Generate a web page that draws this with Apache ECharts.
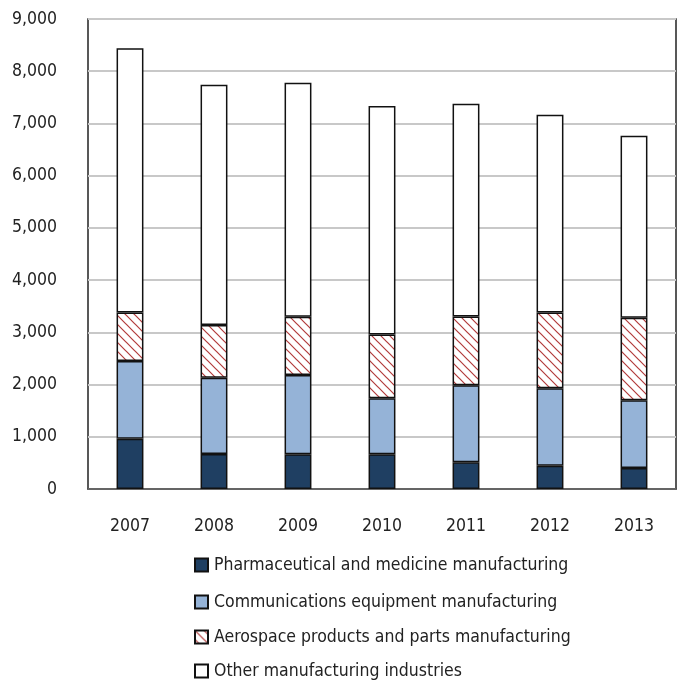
<!DOCTYPE html>
<html>
<head>
<meta charset="utf-8">
<script src="https://cdn.jsdelivr.net/npm/echarts@6/dist/echarts.min.js"></script>
<style>
html,body{margin:0;padding:0;background:#fff;}
#chart{width:678px;height:681px;}
</style>
</head>
<body>
<div id="chart"></div>
<script>
const years = ['2007','2008','2009','2010','2011','2012','2013'];
const pharma = [960, 670, 665, 665, 510, 445, 400];
const comms = [1490, 1460, 1520, 1075, 1475, 1485, 1300];
const aero = [930, 1010, 1115, 1220, 1320, 1450, 1580];
const other = [5060, 4600, 4480, 4375, 4070, 3785, 3485];
const seriesNames = [
  'Pharmaceutical and medicine manufacturing',
  'Communications equipment manufacturing',
  'Aerospace products and parts manufacturing',
  'Other manufacturing industries'
];

const FONT = "'DejaVu Sans Condensed','Liberation Sans Narrow','Arial Narrow',sans-serif";
const FS = 17.5;

function hatch() {
  const c = document.createElement('canvas');
  const s = 9;
  c.width = s; c.height = s;
  const g = c.getContext('2d');
  g.fillStyle = '#ffffff';
  g.fillRect(0, 0, s, s);
  g.strokeStyle = '#b23b3b';
  g.lineWidth = 1.2;
  g.beginPath();
  g.moveTo(-1, -1); g.lineTo(s + 1, s + 1);
  g.moveTo(-1, s - 1); g.lineTo(1, s + 1);
  g.moveTo(s - 1, -1); g.lineTo(s + 1, 1);
  g.stroke();
  return c;
}

const chart = echarts.init(document.getElementById('chart'), null, {renderer: 'canvas'});
const border = {borderColor: '#111', borderWidth: 1.5};
const legendTops = [551, 588, 623, 657];
const fills = ['#1F3F62', '#95B3D7', {image: hatch(), repeat: 'repeat'}, '#ffffff'];
const datas = [pharma, comms, aero, other];

const option = {
  animation: false,
  backgroundColor: '#fff',
  textStyle: {fontFamily: FONT},
  grid: {left: 88, right: 2, top: 19, bottom: 192, show: true, borderColor: '#222', borderWidth: 1.5, containLabel: false},
  legend: seriesNames.map((n, i) => ({
    data: [n],
    left: 189,
    top: legendTops[i],
    itemWidth: 13,
    itemHeight: 13,
    icon: 'rect',
    textStyle: {fontSize: FS, color: '#222', fontFamily: FONT, padding: [0, 0, 0, 1]},
    selectedMode: false
  })),
  xAxis: {
    type: 'category',
    data: years,
    axisTick: {show: false},
    axisLine: {show: true, lineStyle: {color: '#444', width: 1.5}},
    axisLabel: {fontSize: FS, color: '#222', margin: 28, fontFamily: FONT},
    splitLine: {show: false}
  },
  yAxis: {
    type: 'value',
    min: 0, max: 9000, interval: 1000,
    axisLine: {show: false},
    axisTick: {show: false},
    axisLabel: {fontSize: FS, color: '#222', margin: 31, fontFamily: FONT,
      formatter: v => v.toLocaleString('en-US')},
    splitLine: {show: true, lineStyle: {color: '#c8c8c8', width: 2}}
  },
  series: seriesNames.map((n, i) => ({
    name: n,
    type: 'bar',
    stack: 'total',
    barWidth: '32%',
    data: datas[i],
    itemStyle: Object.assign({color: fills[i]}, border),
    emphasis: {disabled: true}
  }))
};
chart.setOption(option);
</script>
</body>
</html>
